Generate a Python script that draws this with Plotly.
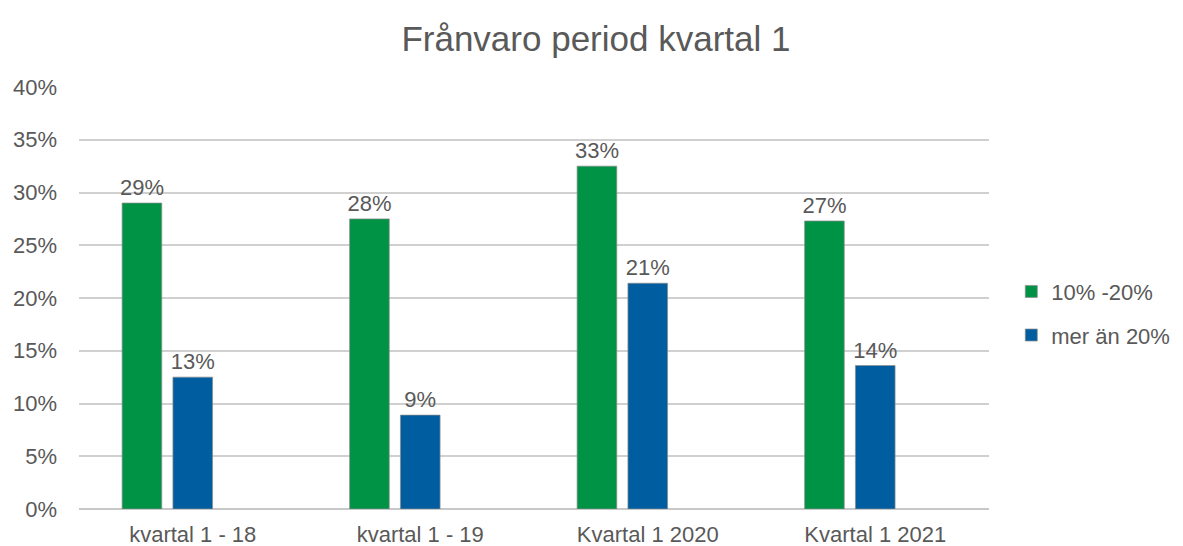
import plotly.graph_objects as go

categories = ["kvartal 1 - 18", "kvartal 1 - 19", "Kvartal 1 2020", "Kvartal 1 2021"]
series_names = ["10% -20%", "mer än 20%"]
green_values = [0.29, 0.275, 0.325, 0.273]
blue_values = [0.125, 0.089, 0.214, 0.136]
green_labels = ["29%", "28%", "33%", "27%"]
blue_labels = ["13%", "9%", "21%", "14%"]
y_ticks = [0, 0.05, 0.10, 0.15, 0.20, 0.25, 0.30, 0.35, 0.40]
y_tick_labels = ["0%", "5%", "10%", "15%", "20%", "25%", "30%", "35%", "40%"]

FONT = "Liberation Sans, Arial, sans-serif"
TXT = "#595959"

fig = go.Figure()
fig.add_trace(go.Bar(
    x=categories, y=green_values, name=series_names[0], legendgroup="g1",
    marker=dict(color="#009245", line=dict(color="rgba(140,140,140,0.7)", width=1)),
    text=green_labels, textposition="outside", cliponaxis=False, constraintext="none",
    textfont=dict(family=FONT, size=22, color=TXT),
))
fig.add_trace(go.Bar(
    x=categories, y=blue_values, name=series_names[1], legendgroup="g2",
    marker=dict(color="#005EA0", line=dict(color="rgba(140,140,140,0.7)", width=1)),
    text=blue_labels, textposition="outside", cliponaxis=False, constraintext="none",
    textfont=dict(family=FONT, size=22, color=TXT),
))
# empty third series slot (as in the original chart layout)
fig.add_trace(go.Bar(
    x=categories, y=[None] * len(categories), showlegend=False, hoverinfo="skip",
))

fig.update_layout(
    width=1183, height=546,
    margin=dict(l=71, r=202, t=79, b=45, autoexpand=False),
    paper_bgcolor="white", plot_bgcolor="white",
    barmode="group", bargap=0.33, bargroupgap=0.22,
    title=dict(text="Frånvaro period kvartal 1", x=0.497, xanchor="center",
               y=0.943, yanchor="middle",
               font=dict(family=FONT, size=35, color=TXT)),
    font=dict(family=FONT, color=TXT),
    legend=dict(x=1.0245, xanchor="left", y=0.463, yanchor="middle",
                font=dict(family=FONT, size=22, color=TXT),
                tracegroupgap=12, itemwidth=30),
    showlegend=True,
)
fig.update_xaxes(
    showgrid=False, showline=False, zeroline=False, automargin=False,
    tickfont=dict(family=FONT, size=22, color=TXT),
    ticks="", ticklabelstandoff=10,
)
fig.update_yaxes(
    range=[0, 0.40], tickvals=y_ticks, ticktext=y_tick_labels, automargin=False,
    showgrid=True, gridcolor="#d0d0d0", gridwidth=2,
    zeroline=True, zerolinecolor="#c8c8c8", zerolinewidth=2,
    showline=False, ticks="", ticklabelstandoff=21,
    tickfont=dict(family=FONT, size=22, color=TXT),
)

fig.write_html("out.html")
